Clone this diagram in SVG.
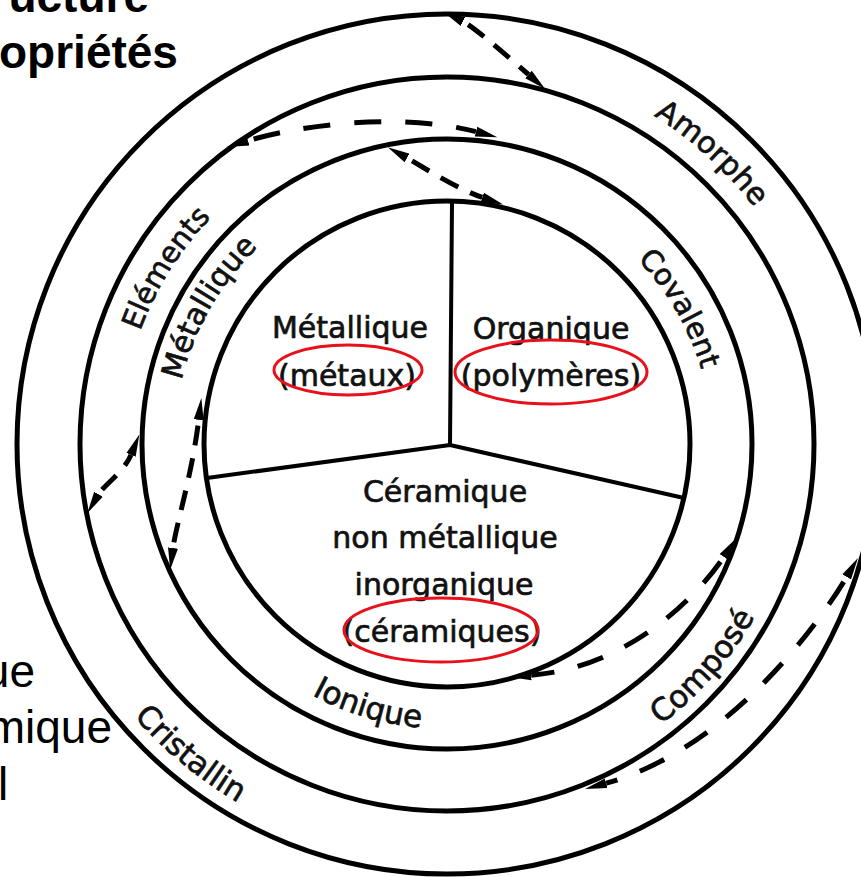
<svg xmlns="http://www.w3.org/2000/svg" width="861" height="877" viewBox="0 0 861 877">
<style>
.ring{fill:none;stroke:#000;stroke-width:5}
.sector{fill:none;stroke:#000;stroke-width:4;stroke-linecap:round}
.lbl{font-family:"DejaVu Sans",sans-serif;font-size:30px;fill:#111;stroke:#111;stroke-width:0.7px}
.mid{text-anchor:middle}
.hl{fill:none;stroke:#e8101a;stroke-width:3}
.conn{fill:none;stroke:#000;stroke-width:5;marker-start:url(#ah);marker-end:url(#ah)}
.long{stroke-dasharray:27 24;stroke-dashoffset:45}
.short{stroke-dasharray:20 13;stroke-dashoffset:27}
.slide{font-family:"Liberation Sans",Arial,sans-serif;font-size:46px;fill:#000}
.b{font-weight:bold}
</style>
<defs>
<marker id="ah" markerUnits="userSpaceOnUse" viewBox="0 -6 22 12" refX="0" refY="0" markerWidth="22" markerHeight="12" orient="auto-start-reverse"><path d="M0,-5 L22,0 L0,5 Z" fill="#000"/></marker>
<path id="pAmorphe" d="M266.7,100.5 A388,388 0 0 1 806.0,591.2"/>
<path id="pCovalent" d="M400.1,183.2 A265,265 0 0 1 650.6,613.6"/>
<path id="pMetal" d="M238.5,620.2 A273,273 0 0 1 493.5,175.0"/>
<path id="pElem" d="M189.3,645.3 A327,327 0 0 1 515.0,124.2"/>
<path id="pCrist" d="M56.0,304.8 A415,415 0 0 0 657.0,801.9"/>
<path id="pIon" d="M162.4,459.9 A285,285 0 0 0 675.2,614.7"/>
<path id="pComp" d="M320.5,773.6 A353,353 0 0 0 755.7,272.9"/>
</defs>
<rect width="861" height="877" fill="#fff"/>

<g id="slide-text">
<text class="slide b" x="149" y="12" text-anchor="end">ucture</text>
<text class="slide b" x="-1" y="68">opriétés</text>
<text class="slide" x="35" y="687" text-anchor="end">ue</text>
<text class="slide" x="112" y="743" text-anchor="end">mique</text>
<text class="slide" x="-2" y="800">l</text>
</g>

<g id="ring-structure">
<circle class="ring" cx="447" cy="444" r="430"/>
<text class="lbl"><textPath href="#pAmorphe" startOffset="50%" text-anchor="middle">Amorphe</textPath></text>
<text class="lbl" style="font-size:31px"><textPath href="#pCrist" startOffset="50%" text-anchor="middle">Cristallin</textPath></text>
</g>

<g id="ring-composition">
<circle class="ring" cx="447" cy="444" r="367"/>
<text class="lbl" style="font-size:29px"><textPath href="#pElem" startOffset="50%" text-anchor="middle">Eléments</textPath></text>
<text class="lbl" style="font-size:31px"><textPath href="#pComp" startOffset="50%" text-anchor="middle">Composé</textPath></text>
</g>

<g id="ring-bonds">
<circle class="ring" cx="447" cy="444" r="305"/>
<text class="lbl"><textPath href="#pMetal" startOffset="50%" text-anchor="middle">Métallique</textPath></text>
<text class="lbl" style="font-size:29px"><textPath href="#pCovalent" startOffset="50%" text-anchor="middle">Covalent</textPath></text>
<text class="lbl" style="font-size:31px"><textPath href="#pIon" startOffset="50%" text-anchor="middle">Ionique</textPath></text>
</g>

<g id="core">
<circle class="ring" cx="447" cy="444" r="243"/>
<path class="sector" d="M450,445 L452,203 M450,445 L207,478 M450,445 L684,498"/>
</g>

<g id="sector-metaux">
<text class="lbl mid" x="350" y="338">Métallique</text>
<text class="lbl mid" x="347" y="386">(métaux)</text>
</g>
<g id="sector-polymeres">
<text class="lbl mid" x="551" y="339">Organique</text>
<text class="lbl mid" x="551" y="386">(polymères)</text>
</g>
<g id="sector-ceramiques">
<text class="lbl mid" x="445" y="502">Céramique</text>
<text class="lbl mid" x="445" y="548">non métallique</text>
<text class="lbl mid" x="444" y="595">inorganique</text>
<text class="lbl mid" x="442" y="642">(céramiques)</text>
</g>

<g id="highlights">
<ellipse class="hl" cx="348" cy="370" rx="74" ry="25"/>
<ellipse class="hl" cx="551" cy="372" rx="96" ry="32"/>
<ellipse class="hl" cx="441" cy="630" rx="97" ry="32"/>
</g>

<g id="connectors">
<path class="conn short" d="M463,21.5 C474,27 506,55 528.5,74.5"/>
<path class="conn long" d="M248,140.7 C300,125 400,112 476,131.7"/>
<path class="conn short" d="M407,158 C425,168 455,188 482.3,197.4"/>
<path class="conn short" d="M98.5,494.3 C104,485 124,472 131,454.9"/>
<path class="conn short" d="M173,548 C176,525 192,475 198.7,419.8"/>
<path class="conn long" d="M723.8,556.9 C695,600 625,668 531.2,675.2"/>
<path class="conn long" d="M846.7,576.9 C815,630 725,750 606.2,783.2"/>
</g>
</svg>
